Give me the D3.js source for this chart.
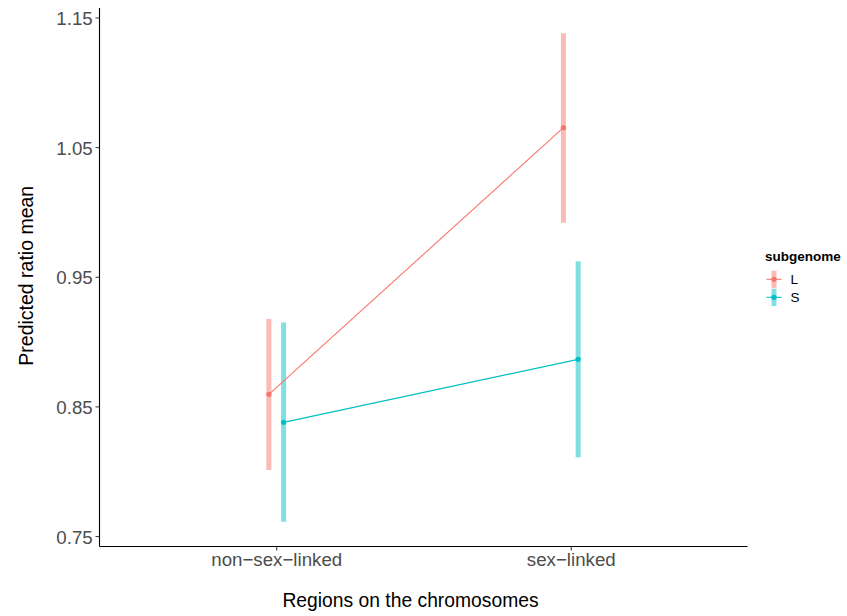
<!DOCTYPE html>
<html>
<head>
<meta charset="utf-8">
<script src="https://cdn.jsdelivr.net/npm/d3@7"></script>
<style>
  html, body { margin: 0; padding: 0; background: #fff; }
  svg { display: block; }
  text { font-family: "Liberation Sans", Arial, Helvetica, sans-serif; }
</style>
</head>
<body>
<svg id="chart" width="847" height="616"></svg>
<script>
// ---- data ----
const categories = ["non\u2212sex\u2212linked", "sex\u2212linked"];
const subgenomes = ["L", "S"];
const meanL  = [0.8593, 1.0650];
const lowerL = [0.8009, 0.9917];
const upperL = [0.9174, 1.1378];
const meanS  = [0.8377, 0.8863];
const lowerS = [0.7610, 0.8107];
const upperS = [0.9148, 0.9619];
const yTicks = [0.75, 0.85, 0.95, 1.05, 1.15];
const colors = ["#F8766D", "#00BFC4"];

const series = [
  { key: "L", mean: meanL, lower: lowerL, upper: upperL, color: colors[0] },
  { key: "S", mean: meanS, lower: lowerS, upper: upperS, color: colors[1] }
];

// ---- layout ----
const svg = d3.select("#chart");
const panel = { left: 99.5, right: 747.5, top: 8, bottom: 546.5 };

// ggplot-style discrete axis: positions 1..n, expanded by 0.6 units each side
const xBand = d3.scaleLinear().domain([0.4, 2.6]).range([panel.left, panel.right]);
const xPos = (cat) => xBand(categories.indexOf(cat) + 1);
const dodge = d3.scaleOrdinal().domain(subgenomes).range([-0.025, 0.025]);
const unit = xBand(2) - xBand(1);

const y = d3.scaleLinear().domain([0.74195, 1.1573]).range([panel.bottom, panel.top]);

// ---- marks ----
const g = svg.append("g");

series.forEach(s => {
  const pts = categories.map((c, i) => ({
    x: xPos(c) + dodge(s.key) * unit,
    m: s.mean[i], lo: s.lower[i], hi: s.upper[i]
  }));
  g.selectAll(null).data(pts).enter().append("line")
    .attr("x1", d => d.x).attr("x2", d => d.x)
    .attr("y1", d => y(d.lo)).attr("y2", d => y(d.hi))
    .attr("stroke", s.color).attr("stroke-opacity", 0.5)
    .attr("stroke-width", 5);
});
series.forEach(s => {
  const pts = categories.map((c, i) => ({
    x: xPos(c) + dodge(s.key) * unit, m: s.mean[i]
  }));
  g.append("path").datum(pts)
    .attr("d", d3.line().x(d => d.x).y(d => y(d.m)))
    .attr("fill", "none").attr("stroke", s.color).attr("stroke-width", 1.1);
  g.selectAll(null).data(pts).enter().append("circle")
    .attr("cx", d => d.x).attr("cy", d => y(d.m)).attr("r", 2.6)
    .attr("fill", s.color);
});

// ---- axes ----
const tickFont = 18.7;
const yAxis = svg.append("g").attr("transform", `translate(${panel.left},0)`)
  .call(d3.axisLeft(y).tickValues(yTicks).tickFormat(d3.format(".2f")).tickSizeOuter(0).tickSize(4));
yAxis.select(".domain").attr("d", `M0,${panel.top}V${panel.bottom}`).attr("stroke", "#000").attr("stroke-width", 1.1);
yAxis.selectAll(".tick line").attr("stroke", "#333").attr("stroke-width", 1);
yAxis.selectAll(".tick text").attr("fill", "#4D4D4D").attr("font-size", tickFont)
  .attr("x", -6.8).attr("dy", "0.38em");

const xAxis = svg.append("g").attr("transform", `translate(0,${panel.bottom})`)
  .call(d3.axisBottom(xBand).tickValues([1, 2]).tickFormat(d => categories[d - 1]).tickSizeOuter(0).tickSize(4));
xAxis.select(".domain").attr("d", `M${panel.left},0H${panel.right}`).attr("stroke", "#000").attr("stroke-width", 1.1);
xAxis.selectAll(".tick line").attr("stroke", "#333").attr("stroke-width", 1);
xAxis.selectAll(".tick text").attr("fill", "#4D4D4D").attr("font-size", tickFont)
  .attr("y", 19.2).attr("dy", 0);

// ---- titles ----
svg.append("text").attr("x", 410.5).attr("y", 606.7)
  .attr("text-anchor", "middle").attr("font-size", 19.3).attr("fill", "#000")
  .text("Regions on the chromosomes");
svg.append("text")
  .attr("transform", `translate(33,${(panel.top + panel.bottom) / 2 - 1.5}) rotate(-90)`)
  .attr("text-anchor", "middle").attr("font-size", 19.5).attr("fill", "#000")
  .text("Predicted ratio mean");

// ---- legend ----
const lg = svg.append("g").attr("transform", "translate(765,0)");
lg.append("text").attr("x", 0).attr("y", 260.7).attr("font-size", 13.5)
  .attr("font-weight", "bold").attr("fill", "#000").text("subgenome");
const keyY = d3.scaleOrdinal().domain(subgenomes).range([279.3, 297.3]);
series.forEach(s => {
  const cy = keyY(s.key);
  lg.append("line").attr("x1", 9).attr("x2", 9).attr("y1", cy - 8.6).attr("y2", cy + 8.6)
    .attr("stroke", s.color).attr("stroke-opacity", 0.5).attr("stroke-width", 5);
  lg.append("line").attr("x1", 1.5).attr("x2", 16.5).attr("y1", cy).attr("y2", cy)
    .attr("stroke", s.color).attr("stroke-width", 1.1);
  lg.append("circle").attr("cx", 9).attr("cy", cy).attr("r", 2.6).attr("fill", s.color);
  lg.append("text").attr("x", 25.5).attr("y", cy).attr("dy", "0.36em")
    .attr("font-size", 13.5).attr("fill", "#000").text(s.key);
});
</script>
</body>
</html>
